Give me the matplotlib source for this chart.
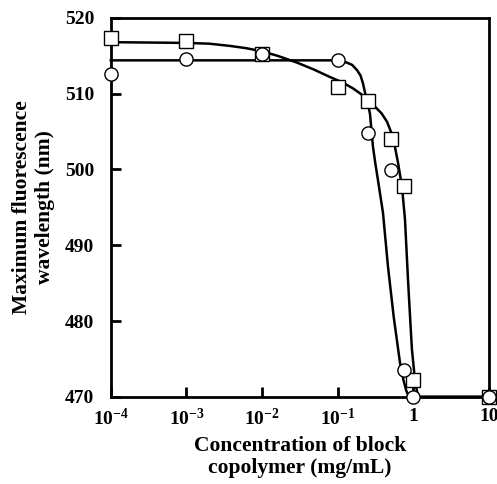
import numpy as np
import matplotlib
matplotlib.use("Agg")
import matplotlib.pyplot as plt

plt.rcParams['font.family'] = ['Liberation Serif', 'DejaVu Serif']
plt.rcParams['font.weight'] = 'bold'
plt.rcParams['mathtext.fontset'] = 'custom'
plt.rcParams['mathtext.rm'] = 'Liberation Serif:bold'
plt.rcParams['mathtext.it'] = 'Liberation Serif:bold'
plt.rcParams['mathtext.bf'] = 'Liberation Serif:bold'

# measured points
sq_x = [1e-4, 1e-3, 1e-2, 0.1, 0.25, 0.5, 0.75, 1.0, 10]
sq_y = [517.3, 516.9, 515.3, 510.9, 509.0, 504.0, 497.8, 472.2, 470.0]
ci_x = [1e-4, 1e-3, 1e-2, 0.1, 0.25, 0.5, 0.75, 1.0, 10]
ci_y = [512.6, 514.6, 515.3, 514.4, 504.8, 499.9, 473.6, 470.0, 470.0]

# fitted curves
fit_sq_x = [1e-4, 1e-3, 0.002, 0.0038, 0.0062, 0.0099, 0.016, 0.029, 0.048, 0.079,
            0.115, 0.159, 0.2, 0.243, 0.31, 0.38, 0.448, 0.537, 0.626, 0.707,
            0.774, 0.849, 0.91, 0.957, 1.05, 1.15, 10]
fit_sq_y = [516.8, 516.7, 516.6, 516.3, 516.0, 515.6, 515.0, 514.1, 513.2, 512.2,
            511.5, 510.7, 510.0, 509.3, 508.3, 507.4, 506.3, 504.3, 500.9, 497.7,
            493.4, 485.4, 480.0, 476.2, 472.2, 470.0, 470.0]
fit_ci_x = [1e-4, 0.09, 0.11, 0.132, 0.155, 0.18, 0.2, 0.215, 0.236, 0.252, 0.267,
            0.292, 0.315, 0.34, 0.396, 0.461, 0.55, 0.665, 0.74, 0.80, 0.845,
            0.875, 10]
fit_ci_y = [514.4, 514.4, 514.35, 514.1, 513.8, 513.1, 512.4, 511.4, 509.6, 508.6,
            507.3, 503.0, 500.7, 498.6, 494.3, 487.2, 480.5, 474.5, 472.2, 470.9,
            470.3, 470.0, 470.0]

yticks = [470, 480, 490, 500, 510, 520]
xticks = [1e-4, 1e-3, 1e-2, 1e-1, 1, 10]
xticklabels = [r'$10^{-4}$', r'$10^{-3}$', r'$10^{-2}$', r'$10^{-1}$', '1', '10']

fig = plt.figure(figsize=(4.97, 4.84), dpi=100)
ax = fig.add_axes([0.223, 0.180, 0.761, 0.783])

ax.plot(fit_sq_x, fit_sq_y, color='black', lw=1.8, clip_on=False, zorder=2)
ax.plot(fit_ci_x, fit_ci_y, color='black', lw=1.8, clip_on=False, zorder=2)
ax.plot(sq_x, sq_y, 's', ms=9.5, mfc='white', mec='black', mew=1.0,
        clip_on=False, zorder=3)
ax.plot(ci_x, ci_y, 'o', ms=9.5, mfc='white', mec='black', mew=1.0,
        clip_on=False, zorder=4)

ax.set_xscale('log')
ax.set_xlim(1e-4, 10)
ax.set_ylim(470, 520)
ax.set_xticks(xticks)
ax.set_xticklabels(xticklabels)
ax.xaxis.set_minor_locator(matplotlib.ticker.NullLocator())
ax.set_yticks(yticks)

ax.tick_params(direction='in', length=7, width=2, labelsize=14)
ax.tick_params(axis='x', pad=8)
ax.tick_params(axis='y', pad=12)
for s in ax.spines.values():
    s.set_linewidth(2)

ax.set_xlabel('Concentration of block\ncopolymer (mg/mL)', fontsize=15.5,
              fontweight='bold', labelpad=5, linespacing=1.15)
ax.set_ylabel('Maximum fluorescence\nwavelength (nm)', fontsize=15.5,
              fontweight='bold', labelpad=7)

fig.savefig('out.png', dpi=100)
